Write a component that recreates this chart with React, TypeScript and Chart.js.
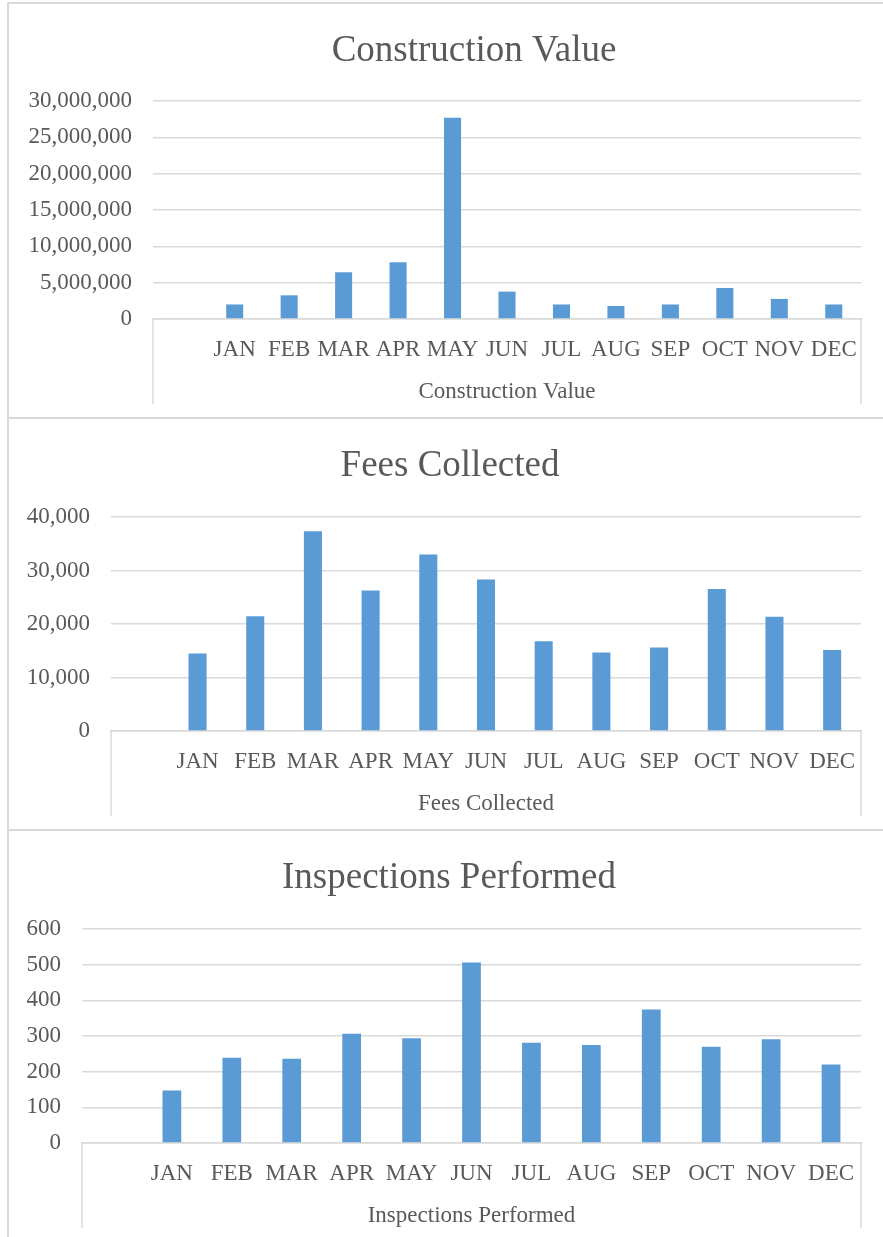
import React, { useEffect, useRef } from 'react';
import { Chart, registerables } from 'chart.js';

Chart.register(...registerables);

const MONTHS = ['', 'JAN', 'FEB', 'MAR', 'APR', 'MAY', 'JUN', 'JUL', 'AUG', 'SEP', 'OCT', 'NOV', 'DEC'];

const constructionValues = [null, 2000000, 3260000, 6430000, 7810000, 27700000, 3770000, 2000000, 1790000, 2000000, 4270000, 2760000, 2000000];
const feesValues = [null, 14480, 21470, 37320, 26270, 33010, 28330, 16790, 14660, 15600, 26520, 21340, 15160];
const inspectionValues = [null, 147, 239, 236, 306, 294, 506, 281, 275, 374, 270, 291, 220];

const constructionAxis = [0, 30000000, 5000000];
const feesAxis = [0, 40000, 10000];
const inspectionAxis = [0, 600, 100];

const FONT = "'Liberation Serif', 'Times New Roman', serif";
const TEXT = '#595959';
const GRID = '#d9d9d9';
const BAR = '#5b9bd5';
const PAGE_W = 883;

type Panel = {
  title: string;
  values: (number | null)[];
  axis: number[];
  boxTop: number;
  boxHeight: number;
  plotLeft: number;
  plotRight: number;
  plotTop: number;
  plotBottom: number;
  titleX: number;
};

const panels: Panel[] = [
  { title: 'Construction Value', values: constructionValues, axis: constructionAxis, boxTop: 2, boxHeight: 415, plotLeft: 153, plotRight: 861, plotTop: 101, plotBottom: 319, titleX: 474 },
  { title: 'Fees Collected', values: feesValues, axis: feesAxis, boxTop: 417, boxHeight: 412, plotLeft: 111, plotRight: 861, plotTop: 517, plotBottom: 731, titleX: 450 },
  { title: 'Inspections Performed', values: inspectionValues, axis: inspectionAxis, boxTop: 829, boxHeight: 420, plotLeft: 82, plotRight: 861, plotTop: 929, plotBottom: 1143, titleX: 449 },
];

function BarPanel({ p }: { p: Panel }) {
  const ref = useRef<HTMLCanvasElement>(null);
  const canvasTop = p.boxTop + 2;
  const canvasH = p.boxHeight - 2;

  useEffect(() => {
    if (!ref.current) return;
    const axisY = p.plotBottom - canvasTop;
    const xHeight = canvasH - axisY;
    const decor = {
      id: 'excelDecor',
      afterDraw(chart: any) {
        const { ctx, chartArea: a } = chart;
        ctx.save();
        ctx.strokeStyle = GRID;
        ctx.lineWidth = 1.5;
        ctx.beginPath();
        [a.left, a.right].forEach((x: number) => {
          ctx.moveTo(x, a.bottom);
          ctx.lineTo(x, a.bottom + 85);
        });
        ctx.stroke();
        ctx.fillStyle = TEXT;
        ctx.textAlign = 'center';
        ctx.textBaseline = 'middle';
        ctx.font = `23px ${FONT}`;
        ctx.fillText(p.title, (a.left + a.right) / 2, a.bottom + 73);
        ctx.font = `37px ${FONT}`;
        ctx.textBaseline = 'alphabetic';
        ctx.fillText(p.title, p.titleX, p.boxTop + 59 - canvasTop);
        ctx.restore();
      },
    };
    const chart = new Chart(ref.current, {
      type: 'bar',
      data: {
        labels: MONTHS,
        datasets: [
          {
            label: p.title,
            data: p.values,
            backgroundColor: BAR,
            borderWidth: 0,
            barPercentage: 0.313,
            categoryPercentage: 1,
          },
        ],
      },
      options: {
        responsive: false,
        animation: false,
        devicePixelRatio: 1,
        layout: { padding: { top: p.plotTop - canvasTop, right: PAGE_W - p.plotRight, left: 0, bottom: 0 } },
        plugins: { legend: { display: false }, tooltip: { enabled: false }, title: { display: false } },
        scales: {
          x: {
            grid: { display: false, drawTicks: false },
            border: { display: true, color: GRID, width: 1.5 },
            ticks: {
              color: TEXT,
              font: { family: FONT, size: 23 },
              autoSkip: false,
              maxRotation: 0,
              minRotation: 0,
              padding: 17,
            },
            afterFit: (s: any) => {
              s.height = xHeight;
            },
          },
          y: {
            min: p.axis[0],
            max: p.axis[1],
            grid: { color: GRID, lineWidth: 1.5, drawTicks: false },
            border: { display: false },
            ticks: {
              stepSize: p.axis[2],
              color: TEXT,
              font: { family: FONT, size: 23 },
              padding: 21,
              callback: (v: any) => Number(v).toLocaleString('en-US'),
            },
            afterFit: (s: any) => {
              s.width = p.plotLeft;
            },
          },
        },
      },
      plugins: [decor],
    });
    return () => chart.destroy();
  }, []);

  return (
    <>
      <div
        style={{
          position: 'absolute',
          left: 7,
          top: p.boxTop,
          width: 1000,
          height: p.boxHeight,
          borderLeft: `2px solid ${GRID}`,
          borderTop: `2px solid ${GRID}`,
          boxSizing: 'border-box',
        }}
      />
      <canvas
        ref={ref}
        width={PAGE_W}
        height={canvasH}
        style={{ position: 'absolute', left: 0, top: canvasTop, width: PAGE_W, height: canvasH }}
      />
    </>
  );
}

export default function App() {
  return (
    <div
      style={{
        position: 'absolute',
        left: 0,
        top: 0,
        width: PAGE_W,
        height: 1237,
        overflow: 'hidden',
        background: '#ffffff',
      }}
    >
      {panels.map((p) => (
        <BarPanel key={p.title} p={p} />
      ))}
    </div>
  );
}
